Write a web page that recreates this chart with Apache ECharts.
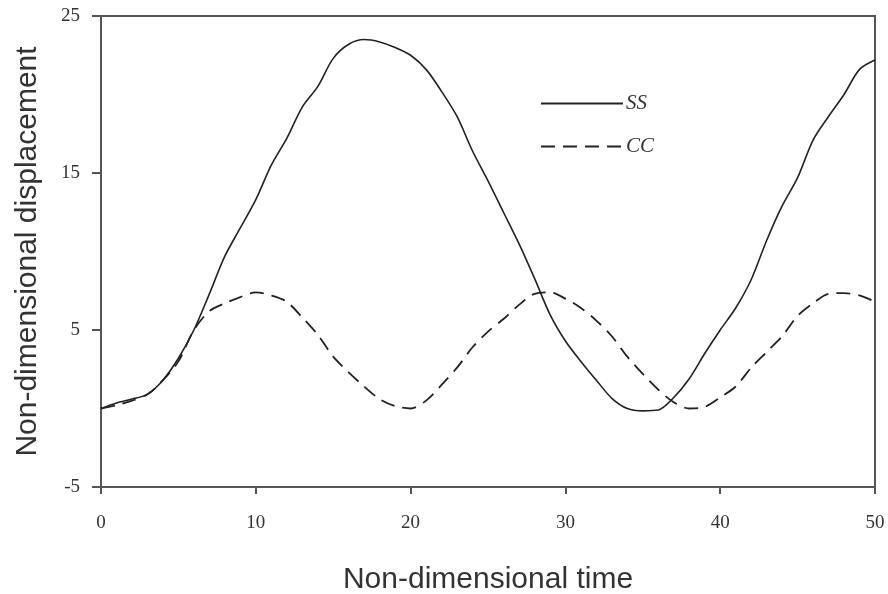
<!DOCTYPE html>
<html>
<head>
<meta charset="utf-8">
<script src="https://cdn.jsdelivr.net/npm/echarts@6/dist/echarts.min.js"></script>
<style>html,body{margin:0;padding:0;background:#fff}#c{width:888px;height:594px}</style>
</head>
<body>
<div id="c"></div>
<script>
var times = [0,1,2,3,4,5,6,7,8,9,10,11,12,13,14,15,16,17,18,19,20,21,22,23,24,25,26,27,28,29,30,31,32,33,34,35,36,37,38,39,40,41,42,43,44,45,46,47,48,49,50];
var ssValues = [0.0,0.35,0.6,0.9,1.8,3.2,5.0,7.3,9.7,11.5,13.3,15.5,17.2,19.2,20.5,22.3,23.2,23.5,23.35,23.0,22.5,21.6,20.2,18.6,16.4,14.5,12.5,10.5,8.3,6.0,4.3,3.0,1.8,0.65,0.0,-0.15,-0.1,0.7,1.9,3.5,5.0,6.4,8.2,10.7,12.9,14.7,17.1,18.6,20.0,21.6,22.2];
var ccValues = [0.0,0.2,0.5,0.9,1.8,3.0,5.0,6.2,6.7,7.1,7.4,7.2,6.8,5.8,4.7,3.3,2.3,1.4,0.6,0.15,0.0,0.5,1.5,2.6,3.9,4.9,5.7,6.6,7.3,7.4,7.0,6.4,5.6,4.6,3.3,2.2,1.2,0.4,0.0,0.1,0.7,1.4,2.6,3.6,4.6,5.9,6.7,7.3,7.35,7.2,6.8];
var seriesNames = ['SS','CC'];
var xTitle = 'Non-dimensional time';
var yTitle = 'Non-dimensional displacement';

function pairs(vals){ return times.map(function(t,i){ return [t, vals[i]]; }); }

var chart = echarts.init(document.getElementById('c'), null, {renderer:'canvas'});
var axisColor = '#555';
chart.setOption({
  backgroundColor:'#fff',
  animation:false,
  grid:{left:101,right:13,top:16,bottom:107,containLabel:false,outerBoundsMode:'none',show:true,borderColor:axisColor,borderWidth:2,backgroundColor:'transparent'},
  legend:{
    orient:'vertical', left:535, top:88, itemWidth:82, itemHeight:14, itemGap:22,
    data:seriesNames,
    itemStyle:{opacity:0},
    textStyle:{fontFamily:'Liberation Serif',fontStyle:'italic',fontSize:21,color:'#333',padding:[0,0,0,-2]}
  },
  xAxis:{
    type:'value', min:0, max:50, interval:10,
    name:xTitle, nameLocation:'middle', nameGap:78,
    nameTextStyle:{fontFamily:'Liberation Sans',fontSize:30,color:'#333'},
    axisLine:{show:true,onZero:false,lineStyle:{color:axisColor,width:2}},
    axisTick:{show:true,inside:false,length:7,lineStyle:{color:axisColor,width:2}},
    axisLabel:{margin:27,fontFamily:'Liberation Serif',fontSize:19,color:'#333'},
    splitLine:{show:false}
  },
  yAxis:{
    type:'value', min:-5, max:25, interval:10,
    name:yTitle, nameLocation:'middle', nameGap:48, nameRotate:90,
    nameTextStyle:{fontFamily:'Liberation Sans',fontSize:30,color:'#333',padding:[0,0,10,0]},
    axisLine:{show:true,onZero:false,lineStyle:{color:axisColor,width:2}},
    axisTick:{show:true,inside:false,length:9,lineStyle:{color:axisColor,width:2}},
    axisLabel:{margin:21,fontFamily:'Liberation Serif',fontSize:19,color:'#333'},
    splitLine:{show:false}
  },
  series:[
    {name:seriesNames[0],type:'line',data:pairs(ssValues),symbol:'none',smooth:0.3,
     lineStyle:{color:'#222',width:1.6,type:'solid'},itemStyle:{color:'#222'}},
    {name:seriesNames[1],type:'line',data:pairs(ccValues),symbol:'none',smooth:0.3,
     lineStyle:{color:'#222',width:1.8,type:[14,8]},itemStyle:{color:'#222'}}
  ]
});
</script>
</body>
</html>
